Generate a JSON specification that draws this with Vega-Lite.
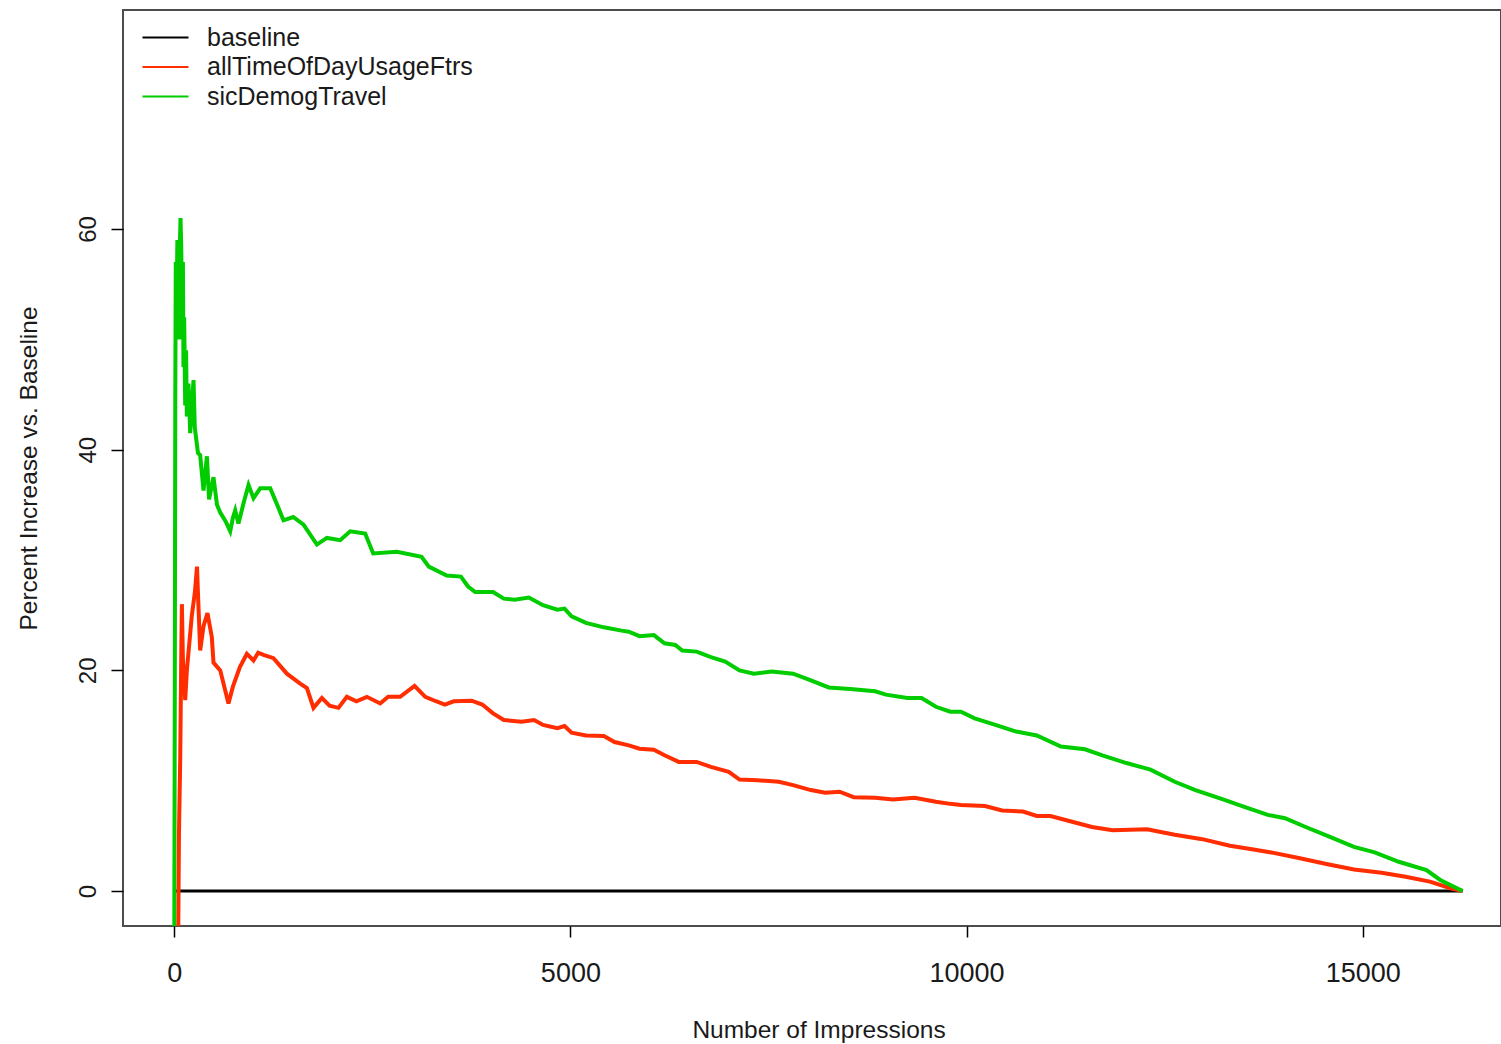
{
  "$schema": "https://vega.github.io/schema/vega-lite/v6.json",
  "width": 1378,
  "height": 916,
  "autosize": {"type": "none"},
  "padding": {"left": 123, "top": 10, "right": 0, "bottom": 118},
  "background": "white",
  "config": {
    "view": {"stroke": "#4d4d4d", "strokeWidth": 2},
    "font": "Liberation Sans"
  },
  "data": {"values": [
    {"series": "baseline", "impressions": 0, "pct": 0},
    {"series": "baseline", "impressions": 16260, "pct": 0},

    {"series": "allTimeOfDayUsageFtrs", "impressions": 45, "pct": -10},
    {"series": "allTimeOfDayUsageFtrs", "impressions": 60, "pct": 5},
    {"series": "allTimeOfDayUsageFtrs", "impressions": 76, "pct": 12},
    {"series": "allTimeOfDayUsageFtrs", "impressions": 90, "pct": 22},
    {"series": "allTimeOfDayUsageFtrs", "impressions": 97, "pct": 26},
    {"series": "allTimeOfDayUsageFtrs", "impressions": 110, "pct": 21},
    {"series": "allTimeOfDayUsageFtrs", "impressions": 139, "pct": 17.3},
    {"series": "allTimeOfDayUsageFtrs", "impressions": 160, "pct": 20},
    {"series": "allTimeOfDayUsageFtrs", "impressions": 223, "pct": 25},
    {"series": "allTimeOfDayUsageFtrs", "impressions": 260, "pct": 27},
    {"series": "allTimeOfDayUsageFtrs", "impressions": 288, "pct": 29.4},
    {"series": "allTimeOfDayUsageFtrs", "impressions": 300, "pct": 27},
    {"series": "allTimeOfDayUsageFtrs", "impressions": 328, "pct": 21.8},
    {"series": "allTimeOfDayUsageFtrs", "impressions": 370, "pct": 24},
    {"series": "allTimeOfDayUsageFtrs", "impressions": 420, "pct": 25.2},
    {"series": "allTimeOfDayUsageFtrs", "impressions": 475, "pct": 23},
    {"series": "allTimeOfDayUsageFtrs", "impressions": 496, "pct": 20.7},
    {"series": "allTimeOfDayUsageFtrs", "impressions": 581, "pct": 20.0},
    {"series": "allTimeOfDayUsageFtrs", "impressions": 685, "pct": 17.0},
    {"series": "allTimeOfDayUsageFtrs", "impressions": 740, "pct": 18.5},
    {"series": "allTimeOfDayUsageFtrs", "impressions": 829, "pct": 20.3},
    {"series": "allTimeOfDayUsageFtrs", "impressions": 917, "pct": 21.5},
    {"series": "allTimeOfDayUsageFtrs", "impressions": 1001, "pct": 20.9},
    {"series": "allTimeOfDayUsageFtrs", "impressions": 1060, "pct": 21.6},
    {"series": "allTimeOfDayUsageFtrs", "impressions": 1127, "pct": 21.4},
    {"series": "allTimeOfDayUsageFtrs", "impressions": 1253, "pct": 21.1},
    {"series": "allTimeOfDayUsageFtrs", "impressions": 1422, "pct": 19.7},
    {"series": "allTimeOfDayUsageFtrs", "impressions": 1590, "pct": 18.8},
    {"series": "allTimeOfDayUsageFtrs", "impressions": 1675, "pct": 18.4},
    {"series": "allTimeOfDayUsageFtrs", "impressions": 1758, "pct": 16.6},
    {"series": "allTimeOfDayUsageFtrs", "impressions": 1864, "pct": 17.5},
    {"series": "allTimeOfDayUsageFtrs", "impressions": 1960, "pct": 16.8},
    {"series": "allTimeOfDayUsageFtrs", "impressions": 2073, "pct": 16.6},
    {"series": "allTimeOfDayUsageFtrs", "impressions": 2179, "pct": 17.6},
    {"series": "allTimeOfDayUsageFtrs", "impressions": 2300, "pct": 17.2},
    {"series": "allTimeOfDayUsageFtrs", "impressions": 2432, "pct": 17.6},
    {"series": "allTimeOfDayUsageFtrs", "impressions": 2600, "pct": 17.0},
    {"series": "allTimeOfDayUsageFtrs", "impressions": 2700, "pct": 17.6},
    {"series": "allTimeOfDayUsageFtrs", "impressions": 2852, "pct": 17.6},
    {"series": "allTimeOfDayUsageFtrs", "impressions": 3033, "pct": 18.6},
    {"series": "allTimeOfDayUsageFtrs", "impressions": 3168, "pct": 17.6},
    {"series": "allTimeOfDayUsageFtrs", "impressions": 3303, "pct": 17.2},
    {"series": "allTimeOfDayUsageFtrs", "impressions": 3415, "pct": 16.9},
    {"series": "allTimeOfDayUsageFtrs", "impressions": 3529, "pct": 17.2},
    {"series": "allTimeOfDayUsageFtrs", "impressions": 3753, "pct": 17.25},
    {"series": "allTimeOfDayUsageFtrs", "impressions": 3888, "pct": 16.9},
    {"series": "allTimeOfDayUsageFtrs", "impressions": 4024, "pct": 16.1},
    {"series": "allTimeOfDayUsageFtrs", "impressions": 4160, "pct": 15.5},
    {"series": "allTimeOfDayUsageFtrs", "impressions": 4384, "pct": 15.35},
    {"series": "allTimeOfDayUsageFtrs", "impressions": 4542, "pct": 15.5},
    {"series": "allTimeOfDayUsageFtrs", "impressions": 4655, "pct": 15.05},
    {"series": "allTimeOfDayUsageFtrs", "impressions": 4835, "pct": 14.75},
    {"series": "allTimeOfDayUsageFtrs", "impressions": 4926, "pct": 14.95},
    {"series": "allTimeOfDayUsageFtrs", "impressions": 5015, "pct": 14.35},
    {"series": "allTimeOfDayUsageFtrs", "impressions": 5196, "pct": 14.1},
    {"series": "allTimeOfDayUsageFtrs", "impressions": 5422, "pct": 14.05},
    {"series": "allTimeOfDayUsageFtrs", "impressions": 5557, "pct": 13.5},
    {"series": "allTimeOfDayUsageFtrs", "impressions": 5737, "pct": 13.2},
    {"series": "allTimeOfDayUsageFtrs", "impressions": 5872, "pct": 12.9},
    {"series": "allTimeOfDayUsageFtrs", "impressions": 6053, "pct": 12.8},
    {"series": "allTimeOfDayUsageFtrs", "impressions": 6188, "pct": 12.3},
    {"series": "allTimeOfDayUsageFtrs", "impressions": 6368, "pct": 11.7},
    {"series": "allTimeOfDayUsageFtrs", "impressions": 6593, "pct": 11.7},
    {"series": "allTimeOfDayUsageFtrs", "impressions": 6773, "pct": 11.25},
    {"series": "allTimeOfDayUsageFtrs", "impressions": 6999, "pct": 10.8},
    {"series": "allTimeOfDayUsageFtrs", "impressions": 7134, "pct": 10.1},
    {"series": "allTimeOfDayUsageFtrs", "impressions": 7359, "pct": 10.05},
    {"series": "allTimeOfDayUsageFtrs", "impressions": 7630, "pct": 9.9},
    {"series": "allTimeOfDayUsageFtrs", "impressions": 7810, "pct": 9.6},
    {"series": "allTimeOfDayUsageFtrs", "impressions": 8035, "pct": 9.15},
    {"series": "allTimeOfDayUsageFtrs", "impressions": 8216, "pct": 8.9},
    {"series": "allTimeOfDayUsageFtrs", "impressions": 8396, "pct": 9.0},
    {"series": "allTimeOfDayUsageFtrs", "impressions": 8576, "pct": 8.5},
    {"series": "allTimeOfDayUsageFtrs", "impressions": 8846, "pct": 8.45},
    {"series": "allTimeOfDayUsageFtrs", "impressions": 9072, "pct": 8.3},
    {"series": "allTimeOfDayUsageFtrs", "impressions": 9343, "pct": 8.45},
    {"series": "allTimeOfDayUsageFtrs", "impressions": 9613, "pct": 8.1},
    {"series": "allTimeOfDayUsageFtrs", "impressions": 9793, "pct": 7.9},
    {"series": "allTimeOfDayUsageFtrs", "impressions": 9928, "pct": 7.8},
    {"series": "allTimeOfDayUsageFtrs", "impressions": 10232, "pct": 7.7},
    {"series": "allTimeOfDayUsageFtrs", "impressions": 10449, "pct": 7.3},
    {"series": "allTimeOfDayUsageFtrs", "impressions": 10712, "pct": 7.2},
    {"series": "allTimeOfDayUsageFtrs", "impressions": 10886, "pct": 6.8},
    {"series": "allTimeOfDayUsageFtrs", "impressions": 11059, "pct": 6.8},
    {"series": "allTimeOfDayUsageFtrs", "impressions": 11320, "pct": 6.3},
    {"series": "allTimeOfDayUsageFtrs", "impressions": 11581, "pct": 5.8},
    {"series": "allTimeOfDayUsageFtrs", "impressions": 11843, "pct": 5.5},
    {"series": "allTimeOfDayUsageFtrs", "impressions": 12278, "pct": 5.6},
    {"series": "allTimeOfDayUsageFtrs", "impressions": 12627, "pct": 5.1},
    {"series": "allTimeOfDayUsageFtrs", "impressions": 12975, "pct": 4.7},
    {"series": "allTimeOfDayUsageFtrs", "impressions": 13323, "pct": 4.1},
    {"series": "allTimeOfDayUsageFtrs", "impressions": 13583, "pct": 3.8},
    {"series": "allTimeOfDayUsageFtrs", "impressions": 13844, "pct": 3.5},
    {"series": "allTimeOfDayUsageFtrs", "impressions": 14192, "pct": 3.0},
    {"series": "allTimeOfDayUsageFtrs", "impressions": 14541, "pct": 2.45},
    {"series": "allTimeOfDayUsageFtrs", "impressions": 14889, "pct": 1.95},
    {"series": "allTimeOfDayUsageFtrs", "impressions": 15237, "pct": 1.65},
    {"series": "allTimeOfDayUsageFtrs", "impressions": 15541, "pct": 1.3},
    {"series": "allTimeOfDayUsageFtrs", "impressions": 15847, "pct": 0.85},
    {"series": "allTimeOfDayUsageFtrs", "impressions": 16107, "pct": 0.25},
    {"series": "allTimeOfDayUsageFtrs", "impressions": 16260, "pct": 0},

    {"series": "sicDemogTravel", "impressions": 0, "pct": -10},
    {"series": "sicDemogTravel", "impressions": 8, "pct": 20},
    {"series": "sicDemogTravel", "impressions": 14, "pct": 45},
    {"series": "sicDemogTravel", "impressions": 20, "pct": 57},
    {"series": "sicDemogTravel", "impressions": 30, "pct": 52},
    {"series": "sicDemogTravel", "impressions": 40, "pct": 59},
    {"series": "sicDemogTravel", "impressions": 55, "pct": 50},
    {"series": "sicDemogTravel", "impressions": 70, "pct": 58},
    {"series": "sicDemogTravel", "impressions": 80, "pct": 61},
    {"series": "sicDemogTravel", "impressions": 90, "pct": 58},
    {"series": "sicDemogTravel", "impressions": 100, "pct": 50},
    {"series": "sicDemogTravel", "impressions": 110, "pct": 57},
    {"series": "sicDemogTravel", "impressions": 117, "pct": 47.5},
    {"series": "sicDemogTravel", "impressions": 126, "pct": 52},
    {"series": "sicDemogTravel", "impressions": 139, "pct": 44},
    {"series": "sicDemogTravel", "impressions": 150, "pct": 49},
    {"series": "sicDemogTravel", "impressions": 160, "pct": 43},
    {"series": "sicDemogTravel", "impressions": 180, "pct": 46},
    {"series": "sicDemogTravel", "impressions": 202, "pct": 41.5},
    {"series": "sicDemogTravel", "impressions": 223, "pct": 44},
    {"series": "sicDemogTravel", "impressions": 244, "pct": 46.3},
    {"series": "sicDemogTravel", "impressions": 260, "pct": 42},
    {"series": "sicDemogTravel", "impressions": 300, "pct": 39.7},
    {"series": "sicDemogTravel", "impressions": 328, "pct": 39.5},
    {"series": "sicDemogTravel", "impressions": 370, "pct": 36.3},
    {"series": "sicDemogTravel", "impressions": 413, "pct": 39.4},
    {"series": "sicDemogTravel", "impressions": 440, "pct": 35.5},
    {"series": "sicDemogTravel", "impressions": 496, "pct": 37.5},
    {"series": "sicDemogTravel", "impressions": 540, "pct": 35},
    {"series": "sicDemogTravel", "impressions": 581, "pct": 34.3},
    {"series": "sicDemogTravel", "impressions": 650, "pct": 33.5},
    {"series": "sicDemogTravel", "impressions": 707, "pct": 32.6},
    {"series": "sicDemogTravel", "impressions": 740, "pct": 33.8},
    {"series": "sicDemogTravel", "impressions": 770, "pct": 34.5},
    {"series": "sicDemogTravel", "impressions": 811, "pct": 33.3},
    {"series": "sicDemogTravel", "impressions": 870, "pct": 35},
    {"series": "sicDemogTravel", "impressions": 938, "pct": 36.8},
    {"series": "sicDemogTravel", "impressions": 1001, "pct": 35.6},
    {"series": "sicDemogTravel", "impressions": 1085, "pct": 36.5},
    {"series": "sicDemogTravel", "impressions": 1212, "pct": 36.5},
    {"series": "sicDemogTravel", "impressions": 1300, "pct": 35},
    {"series": "sicDemogTravel", "impressions": 1379, "pct": 33.6},
    {"series": "sicDemogTravel", "impressions": 1502, "pct": 33.9},
    {"series": "sicDemogTravel", "impressions": 1632, "pct": 33.2},
    {"series": "sicDemogTravel", "impressions": 1801, "pct": 31.4},
    {"series": "sicDemogTravel", "impressions": 1927, "pct": 32.0},
    {"series": "sicDemogTravel", "impressions": 2095, "pct": 31.8},
    {"series": "sicDemogTravel", "impressions": 2221, "pct": 32.6},
    {"series": "sicDemogTravel", "impressions": 2410, "pct": 32.4},
    {"series": "sicDemogTravel", "impressions": 2511, "pct": 30.6},
    {"series": "sicDemogTravel", "impressions": 2810, "pct": 30.75},
    {"series": "sicDemogTravel", "impressions": 3122, "pct": 30.3},
    {"series": "sicDemogTravel", "impressions": 3213, "pct": 29.4},
    {"series": "sicDemogTravel", "impressions": 3438, "pct": 28.6},
    {"series": "sicDemogTravel", "impressions": 3618, "pct": 28.5},
    {"series": "sicDemogTravel", "impressions": 3709, "pct": 27.6},
    {"series": "sicDemogTravel", "impressions": 3799, "pct": 27.1},
    {"series": "sicDemogTravel", "impressions": 4024, "pct": 27.1},
    {"series": "sicDemogTravel", "impressions": 4160, "pct": 26.5},
    {"series": "sicDemogTravel", "impressions": 4295, "pct": 26.4},
    {"series": "sicDemogTravel", "impressions": 4475, "pct": 26.6},
    {"series": "sicDemogTravel", "impressions": 4655, "pct": 25.9},
    {"series": "sicDemogTravel", "impressions": 4835, "pct": 25.5},
    {"series": "sicDemogTravel", "impressions": 4926, "pct": 25.6},
    {"series": "sicDemogTravel", "impressions": 5015, "pct": 24.9},
    {"series": "sicDemogTravel", "impressions": 5196, "pct": 24.3},
    {"series": "sicDemogTravel", "impressions": 5422, "pct": 23.9},
    {"series": "sicDemogTravel", "impressions": 5646, "pct": 23.6},
    {"series": "sicDemogTravel", "impressions": 5737, "pct": 23.5},
    {"series": "sicDemogTravel", "impressions": 5872, "pct": 23.1},
    {"series": "sicDemogTravel", "impressions": 6053, "pct": 23.2},
    {"series": "sicDemogTravel", "impressions": 6188, "pct": 22.45},
    {"series": "sicDemogTravel", "impressions": 6323, "pct": 22.3},
    {"series": "sicDemogTravel", "impressions": 6412, "pct": 21.8},
    {"series": "sicDemogTravel", "impressions": 6593, "pct": 21.7},
    {"series": "sicDemogTravel", "impressions": 6773, "pct": 21.2},
    {"series": "sicDemogTravel", "impressions": 6954, "pct": 20.8},
    {"series": "sicDemogTravel", "impressions": 7134, "pct": 20.0},
    {"series": "sicDemogTravel", "impressions": 7315, "pct": 19.7},
    {"series": "sicDemogTravel", "impressions": 7539, "pct": 19.9},
    {"series": "sicDemogTravel", "impressions": 7810, "pct": 19.7},
    {"series": "sicDemogTravel", "impressions": 8035, "pct": 19.1},
    {"series": "sicDemogTravel", "impressions": 8261, "pct": 18.45},
    {"series": "sicDemogTravel", "impressions": 8531, "pct": 18.3},
    {"series": "sicDemogTravel", "impressions": 8846, "pct": 18.1},
    {"series": "sicDemogTravel", "impressions": 8982, "pct": 17.8},
    {"series": "sicDemogTravel", "impressions": 9252, "pct": 17.5},
    {"series": "sicDemogTravel", "impressions": 9432, "pct": 17.5},
    {"series": "sicDemogTravel", "impressions": 9613, "pct": 16.7},
    {"series": "sicDemogTravel", "impressions": 9793, "pct": 16.25},
    {"series": "sicDemogTravel", "impressions": 9928, "pct": 16.25},
    {"series": "sicDemogTravel", "impressions": 10102, "pct": 15.65},
    {"series": "sicDemogTravel", "impressions": 10363, "pct": 15.05},
    {"series": "sicDemogTravel", "impressions": 10625, "pct": 14.45},
    {"series": "sicDemogTravel", "impressions": 10886, "pct": 14.1},
    {"series": "sicDemogTravel", "impressions": 11190, "pct": 13.1},
    {"series": "sicDemogTravel", "impressions": 11494, "pct": 12.85},
    {"series": "sicDemogTravel", "impressions": 11713, "pct": 12.3},
    {"series": "sicDemogTravel", "impressions": 12017, "pct": 11.6},
    {"series": "sicDemogTravel", "impressions": 12321, "pct": 11.0},
    {"series": "sicDemogTravel", "impressions": 12627, "pct": 9.9},
    {"series": "sicDemogTravel", "impressions": 12888, "pct": 9.15},
    {"series": "sicDemogTravel", "impressions": 13236, "pct": 8.3},
    {"series": "sicDemogTravel", "impressions": 13496, "pct": 7.65},
    {"series": "sicDemogTravel", "impressions": 13801, "pct": 6.9},
    {"series": "sicDemogTravel", "impressions": 14018, "pct": 6.6},
    {"series": "sicDemogTravel", "impressions": 14279, "pct": 5.8},
    {"series": "sicDemogTravel", "impressions": 14585, "pct": 4.9},
    {"series": "sicDemogTravel", "impressions": 14889, "pct": 4.0},
    {"series": "sicDemogTravel", "impressions": 15150, "pct": 3.5},
    {"series": "sicDemogTravel", "impressions": 15454, "pct": 2.65},
    {"series": "sicDemogTravel", "impressions": 15803, "pct": 1.9},
    {"series": "sicDemogTravel", "impressions": 15977, "pct": 1.0},
    {"series": "sicDemogTravel", "impressions": 16260, "pct": 0}
  ]},
  "encoding": {
    "x": {
      "field": "impressions",
      "type": "quantitative",
      "title": "Number of Impressions",
      "scale": {"domain": [-646, 16744], "nice": false, "zero": false},
      "axis": {
        "values": [0, 5000, 10000, 15000],
        "format": "d",
        "domain": false,
        "grid": false,
        "tickSize": 11,
        "tickColor": "#000000",
        "tickWidth": 1.5,
        "labelFont": "Liberation Sans",
        "labelFontSize": 27,
        "labelColor": "#1a1a1a",
        "labelBaseline": "alphabetic",
        "labelPadding": 44,
        "labelFlush": false,
        "labelOverlap": false,
        "titleFont": "Liberation Sans",
        "titleFontSize": 24.5,
        "titleFontWeight": "normal",
        "titleColor": "#1a1a1a",
        "titleX": 695.5,
        "titleY": 111,
        "titleAlign": "center",
        "titleBaseline": "alphabetic"
      }
    },
    "y": {
      "field": "pct",
      "type": "quantitative",
      "title": "Percent Increase vs. Baseline",
      "scale": {"domain": [-3.17, 79.85], "nice": false, "zero": false},
      "axis": {
        "values": [0, 20, 40, 60],
        "domain": false,
        "grid": false,
        "tickSize": 12,
        "tickColor": "#000000",
        "tickWidth": 1.5,
        "labelFont": "Liberation Sans",
        "labelFontSize": 24,
        "labelColor": "#1a1a1a",
        "labelAngle": -90,
        "labelAlign": "center",
        "labelBaseline": "alphabetic",
        "labelPadding": 15.5,
        "labelOverlap": false,
        "titleFont": "Liberation Sans",
        "titleFontSize": 24.5,
        "titleFontWeight": "normal",
        "titleColor": "#1a1a1a",
        "titleAngle": -90,
        "titleX": -86.5,
        "titleY": 458,
        "titleAlign": "center",
        "titleBaseline": "alphabetic"
      }
    },
    "color": {
      "field": "series",
      "type": "nominal",
      "scale": {
        "domain": ["baseline", "allTimeOfDayUsageFtrs", "sicDemogTravel"],
        "range": ["#000000", "#ff2d00", "#00cc00"]
      },
      "legend": {
        "orient": "none",
        "legendX": 30,
        "legendY": 15,
        "title": null,
        "padding": 0,
        "symbolType": "M-2.3,0L2.3,0",
        "symbolSize": 400,
        "symbolStrokeWidth": 2,
        "labelFont": "Liberation Sans",
        "labelFontSize": 25,
        "labelColor": "#1a1a1a",
        "labelOffset": 29,
        "labelLimit": 0,
        "rowPadding": 3.5
      }
    }
  },
  "layer": [
    {
      "transform": [{"filter": "datum.series === 'baseline'"}],
      "mark": {"type": "line", "clip": true, "strokeWidth": 3}
    },
    {
      "transform": [{"filter": "datum.series === 'allTimeOfDayUsageFtrs'"}],
      "mark": {"type": "line", "clip": true, "strokeWidth": 4}
    },
    {
      "transform": [{"filter": "datum.series === 'sicDemogTravel'"}],
      "mark": {"type": "line", "clip": true, "strokeWidth": 4}
    }
  ]
}
